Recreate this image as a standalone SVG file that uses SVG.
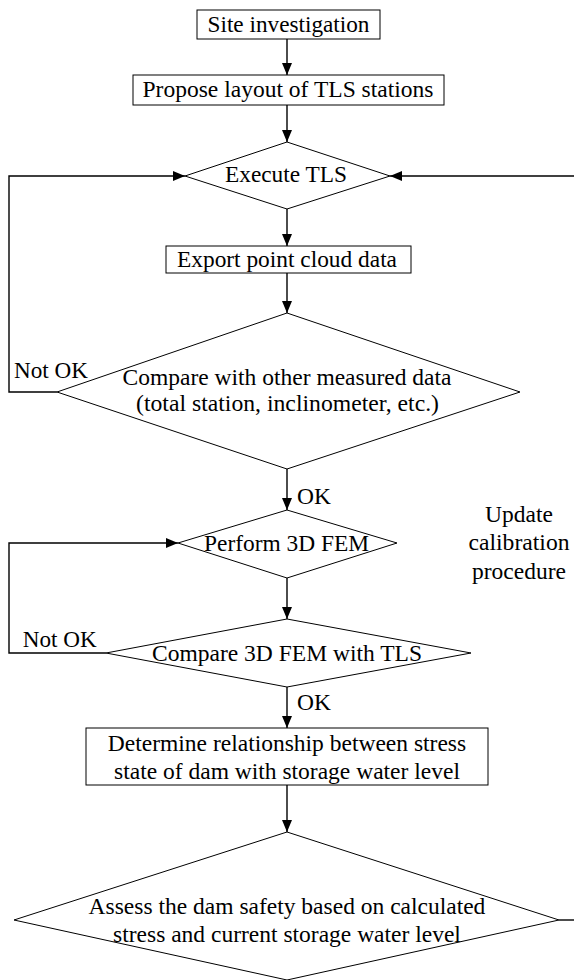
<svg xmlns="http://www.w3.org/2000/svg" width="574" height="980" viewBox="0 0 574 980">
<style>
.box{fill:#fff;stroke:#000;stroke-width:1}
.dia{fill:#fff;stroke:#000;stroke-width:1}
.t{font-size:23.5px;fill:#000}
.c{text-anchor:middle}
.ln{fill:none;stroke:#000;stroke-width:1.4}
</style>
<defs>
<marker id="ah" markerUnits="userSpaceOnUse" markerWidth="12" markerHeight="10" refX="12" refY="5" orient="auto">
<path d="M0,0 L12,5 L0,10 z" fill="#000"/>
</marker>
</defs>
<g id="connectors">
<line class="ln" x1="287" y1="39" x2="287" y2="75" marker-end="url(#ah)"/>
<line class="ln" x1="287" y1="105" x2="287" y2="142" marker-end="url(#ah)"/>
<line class="ln" x1="287" y1="209" x2="287" y2="246" marker-end="url(#ah)"/>
<line class="ln" x1="287" y1="273" x2="287" y2="313" marker-end="url(#ah)"/>
<line class="ln" x1="287" y1="469" x2="287" y2="510" marker-end="url(#ah)"/>
<line class="ln" x1="287" y1="578" x2="287" y2="619" marker-end="url(#ah)"/>
<line class="ln" x1="287" y1="687" x2="287" y2="728" marker-end="url(#ah)"/>
<line class="ln" x1="287" y1="785" x2="287" y2="832" marker-end="url(#ah)"/>
<polyline class="ln" points="57,392 9,392 9,176 185,176" marker-end="url(#ah)"/>
<line class="ln" x1="574" y1="176" x2="390" y2="176" marker-end="url(#ah)"/>
<polyline class="ln" points="106,653 9,653 9,543 178,543" marker-end="url(#ah)"/>
<line class="ln" x1="559" y1="920" x2="574" y2="920"/>
</g>
<g font-family="'Liberation Serif', Tinos, 'Times New Roman', 'DejaVu Serif', serif">
<g id="n1"><rect class="box" x="197" y="10" width="183" height="29"/><text class="t c" x="288.5" y="32" textLength="162" lengthAdjust="spacingAndGlyphs">Site investigation</text></g>
<g id="n2"><rect class="box" x="133" y="75" width="311" height="30"/><text class="t c" x="288" y="97" textLength="291" lengthAdjust="spacingAndGlyphs">Propose layout of TLS stations</text></g>
<g id="n3"><polygon class="dia" points="287,142 390,176 287,209 185,176"/><text class="t c" x="286" y="182" textLength="122" lengthAdjust="spacingAndGlyphs">Execute TLS</text></g>
<g id="n4"><rect class="box" x="166" y="246" width="245" height="27"/><text class="t c" x="287" y="267" textLength="220" lengthAdjust="spacingAndGlyphs">Export point cloud data</text></g>
<g id="n5"><polygon class="dia" points="287,313 520,392 287,469 57,392"/><text class="t c" x="287" y="385" textLength="329" lengthAdjust="spacingAndGlyphs">Compare with other measured data</text><text class="t c" x="287.5" y="411" textLength="303" lengthAdjust="spacingAndGlyphs">(total station, inclinometer, etc.)</text></g>
<g id="n6"><polygon class="dia" points="287,510 397,543 287,578 178,543"/><text class="t c" x="286.5" y="551" textLength="165" lengthAdjust="spacingAndGlyphs">Perform 3D FEM</text></g>
<g id="n7"><polygon class="dia" points="287,619 471,653 287,687 106,653"/><text class="t c" x="287" y="661" textLength="270" lengthAdjust="spacingAndGlyphs">Compare 3D FEM with TLS</text></g>
<g id="n8"><rect class="box" x="86" y="728" width="402" height="57"/><text class="t c" x="287" y="751">Determine relationship between stress</text><text class="t c" x="287" y="779">state of dam with storage water level</text></g>
<g id="n9"><polygon class="dia" points="287,832 559,920 287,980 14,920"/><text class="t c" x="287" y="914">Assess the dam safety based on calculated</text><text class="t c" x="287" y="942">stress and current storage water level</text></g>
<g id="labels">
<text class="t" x="14" y="378" textLength="74" lengthAdjust="spacingAndGlyphs">Not OK</text>
<text class="t" x="297" y="504">OK</text>
<text class="t" x="22.7" y="647" textLength="74" lengthAdjust="spacingAndGlyphs">Not OK</text>
<text class="t" x="297" y="710">OK</text>
<text class="t c" x="519" y="522">Update</text>
<text class="t c" x="519" y="550" textLength="101" lengthAdjust="spacingAndGlyphs">calibration</text>
<text class="t c" x="519" y="579">procedure</text>
</g>
</g>
</svg>
